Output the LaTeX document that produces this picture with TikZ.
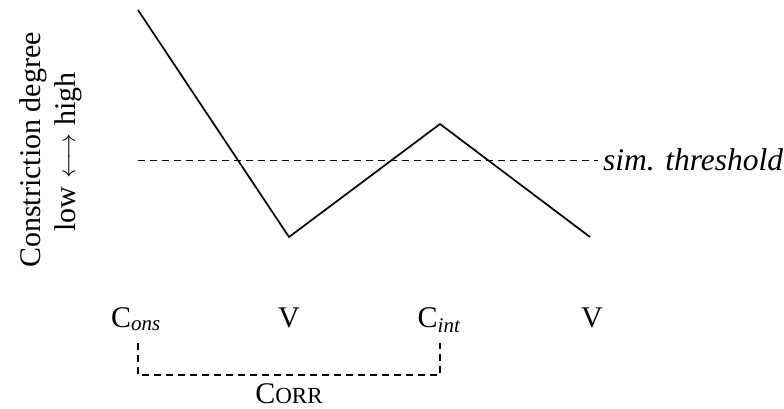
\documentclass[tikz,border=0pt]{standalone}
\usepackage{fontspec}
\setmainfont{Liberation Serif}
\begin{document}
\begin{tikzpicture}[x=1pt,y=-1pt,
  lbl/.style={font=\fontsize{30}{34}\selectfont, inner sep=0pt},
  traj/.style={line width=1.7pt, line join=miter},
  thr/.style={line width=0.9pt, dash pattern=on 7pt off 5pt},
  brk/.style={line width=1.6pt, dash pattern=on 7pt off 5pt}]
\useasboundingbox (0,0) rectangle (784,408);
\coordinate (p0) at (138,10);
\coordinate (p1) at (289,237);
\coordinate (p2) at (440,124);
\coordinate (p3) at (590,237);
\draw[traj] (p0) -- (p1) -- (p2) -- (p3);
\coordinate (t0) at (138,160);
\coordinate (t1) at (598,160);
\draw[thr] (t0) -- (t1);
\node[lbl, font=\fontsize{31.5}{36}\selectfont, anchor=west] (thrl) at (603,160) {\itshape sim. threshold};
\node[lbl, anchor=base] (c1) at (136,327) {C\textsubscript{\itshape ons}};
\node[lbl, anchor=base] (v1) at (289,327) {V};
\node[lbl, anchor=base] (c2) at (439,327) {C\textsubscript{\itshape int}};
\node[lbl, anchor=base] (v2) at (592,327) {V};
\coordinate (b0) at (138,343);
\coordinate (b1) at (138,375);
\coordinate (b2) at (440,375);
\coordinate (b3) at (440,343);
\draw[brk] (b0) -- (b1) -- (b2) -- (b3);
\node[lbl, anchor=base] (corr) at (289,403) {C{\fontsize{23}{26}\selectfont ORR}};
\node[lbl, rotate=90, anchor=base] (ax1) at (40,150) {Constriction degree};
\node[lbl, rotate=90, anchor=base] (ax2) at (75,152) {low $\longleftrightarrow$ high};
\end{tikzpicture}
\end{document}
